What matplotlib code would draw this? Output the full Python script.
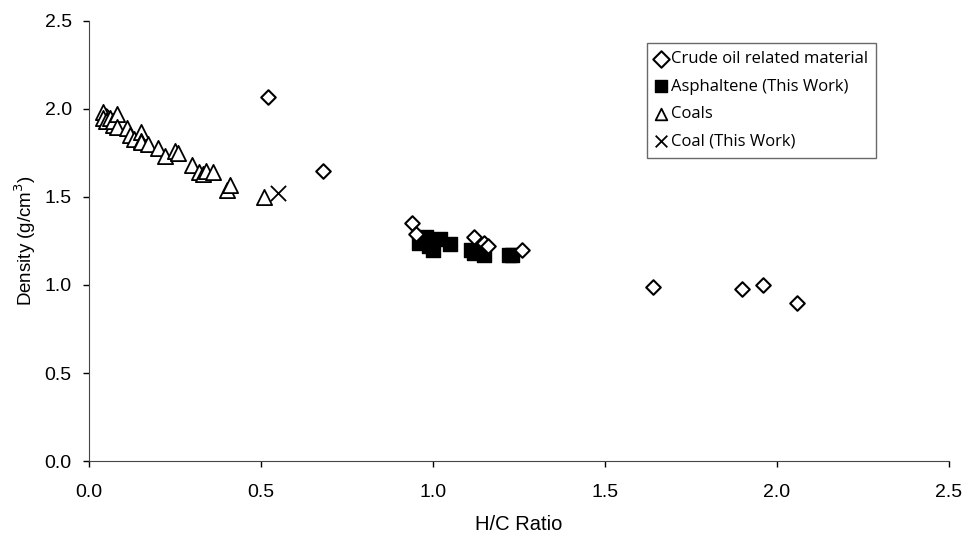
import matplotlib
matplotlib.use("Agg")
import matplotlib.pyplot as plt

# Crude oil related material (open diamonds)
crude_hc = [0.05, 0.52, 0.68, 0.94, 0.95, 1.12, 1.15, 1.16, 1.26, 1.64, 1.90, 1.96, 2.06]
crude_rho = [1.96, 2.07, 1.65, 1.35, 1.29, 1.27, 1.24, 1.22, 1.20, 0.99, 0.98, 1.00, 0.90]

# Asphaltene (This Work) (filled squares)
asph_hc = [0.96, 0.98, 0.99, 1.00, 1.02, 1.05, 1.11, 1.12, 1.15, 1.22, 1.23]
asph_rho = [1.24, 1.27, 1.22, 1.20, 1.26, 1.23, 1.20, 1.18, 1.17, 1.17, 1.17]

# Coals (open triangles)
coal_hc = [0.04, 0.04, 0.05, 0.06, 0.07, 0.07, 0.08, 0.08, 0.11, 0.12, 0.13, 0.15,
           0.15, 0.15, 0.17, 0.20, 0.22, 0.25, 0.26, 0.30, 0.32, 0.33, 0.34, 0.36,
           0.40, 0.41, 0.51]
coal_rho = [1.98, 1.95, 1.93, 1.95, 1.91, 1.93, 1.97, 1.90, 1.89, 1.85, 1.83, 1.87,
            1.82, 1.81, 1.80, 1.78, 1.73, 1.76, 1.75, 1.68, 1.64, 1.63, 1.65, 1.64,
            1.54, 1.57, 1.50]

# Coal (This Work)
coal_tw_hc = [0.55]
coal_tw_rho = [1.52]

fig = plt.figure(figsize=(9.68, 5.37), dpi=100)
ax = fig.add_axes([0.092, 0.1415, 0.888, 0.8195])

ax.scatter(crude_hc, crude_rho, marker='D', s=55, facecolors='white',
           edgecolors='black', linewidths=1.5, label='Crude oil related material', zorder=3)
ax.scatter(asph_hc, asph_rho, marker='s', s=110, color='black',
           label='Asphaltene (This Work)', zorder=2)
ax.scatter(coal_hc, coal_rho, marker='^', s=120, facecolors='white',
           edgecolors='black', linewidths=1.3, label='Coals', zorder=3)
ax.scatter(coal_tw_hc, coal_tw_rho, marker='x', s=120, color='black',
           linewidths=1.3, label='Coal (This Work)', zorder=3)

ax.set_xlim(0, 2.5)
ax.set_ylim(0, 2.5)
ax.set_xticks([0, 0.5, 1.0, 1.5, 2.0, 2.5])
ax.set_yticks([0, 0.5, 1.0, 1.5, 2.0, 2.5])
ax.xaxis.set_major_formatter(matplotlib.ticker.FormatStrFormatter('%.1f'))
ax.yaxis.set_major_formatter(matplotlib.ticker.FormatStrFormatter('%.1f'))
ax.tick_params(direction='out', length=4.5, width=1, labelsize=14)
ax.tick_params(axis='x', pad=12)
ax.tick_params(axis='y', pad=8)
for lab in ax.get_xticklabels() + ax.get_yticklabels():
    lab.set_family('Liberation Sans')

ax.spines['top'].set_visible(False)
ax.spines['right'].set_visible(False)
ax.spines['left'].set_color('#444444')
ax.spines['bottom'].set_color('#444444')

ax.set_xlabel('H/C Ratio', fontsize=14.5, family='Liberation Sans', labelpad=10)
ax.set_ylabel('Density (g/cm$^3$)', fontsize=13.5, family='Liberation Sans', labelpad=5)

leg = ax.legend(loc='upper right', bbox_to_anchor=(0.916, 0.95), borderaxespad=0,
                frameon=True, fancybox=False, edgecolor='#444444', handlelength=0.7,
                handletextpad=0.25, borderpad=0.5, labelspacing=0.68,
                prop={'family': 'Open Sans', 'size': 12})
leg.get_frame().set_linewidth(1.0)
for h in leg.legend_handles:
    h.set_sizes([70])

fig.savefig('out.png', dpi=100)
